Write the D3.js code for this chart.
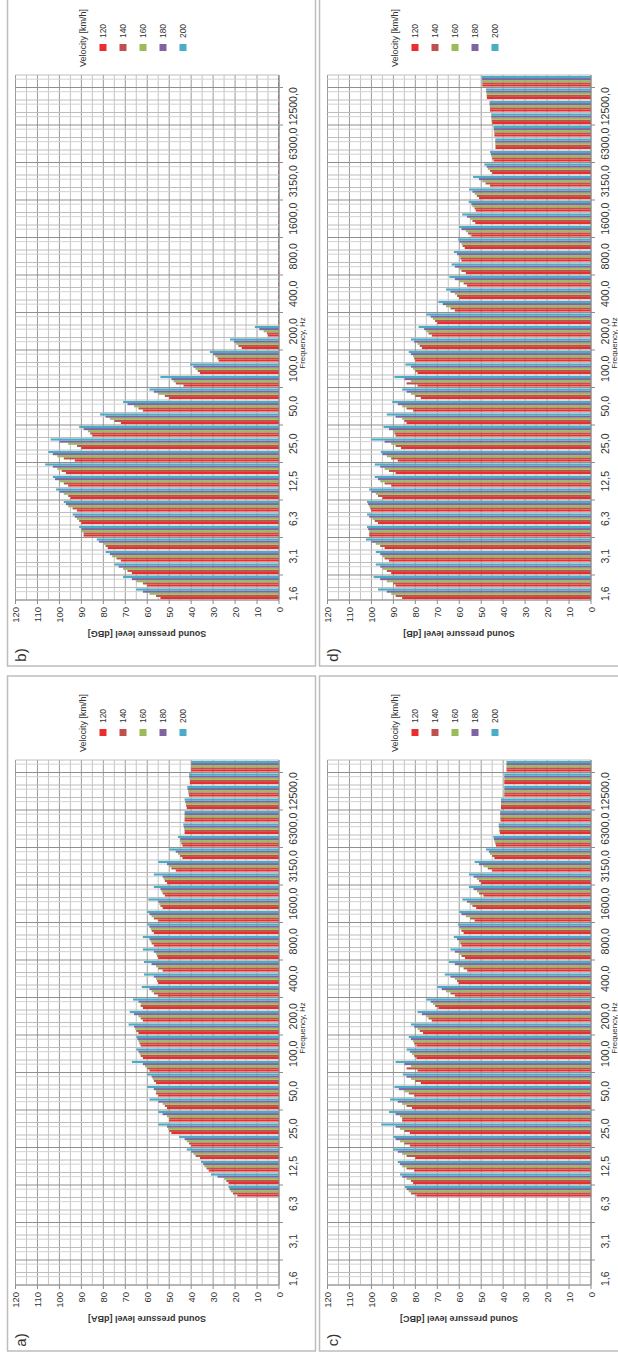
<!DOCTYPE html>
<html lang="en">
<head>
<meta charset="UTF-8">
<title>Sound pressure level vs frequency</title>
<script src="https://cdn.jsdelivr.net/npm/d3@7/dist/d3.min.js"></script>
<style>
  body { margin: 0; background: #fff; }
  svg { display: block; }
  text { font-family: "Liberation Sans", Arial, sans-serif; fill: #333; }
</style>
</head>
<body>
<svg id="chart" width="618" height="1361"></svg>
<script>
// categories (1/3 octave bands) and series
const frequencies = ["1,6","2,0","2,5","3,1","4,0","5,0","6,3","8,0","10,0","12,5","16,0","20,0","25,0","31,5","40,0","50,0","63,0","80,0","100,0","125,0","160,0","200,0","250,0","315,0","400,0","500,0","630,0","800,0","1000,0","1250,0","1600,0","2000,0","2500,0","3150,0","4000,0","5000,0","6300,0","8000,0","10000,0","12500,0","16000,0","20000,0"];
const velocities = ["120","140","160","180","200"];
const seriesColors = ["#ec2d2d","#c0504d","#9bbb59","#8064a2","#4bacc6"];
const valueTicks = [0,10,20,30,40,50,60,70,80,90,100,110,120];

// a) dBA
const dBA_120 = [null,null,null,null,null,null,null,19,23,32,36,40,49,50,51,55,56,59,62,63,64,62,62,55,55,53,55,57,57,55,53,52,51,47,44,44,43,43,42,41,40.6,40];
const dBA_140 = [null,null,null,null,null,null,null,21,24,33,38,41,50,50,52,56,57,60,63,63.5,65,63,63,57,55.5,55,55.5,58,58,57,54,53,52,49,45,44.5,43,43,42.3,41.2,40.6,40];
const dBA_160 = [null,null,null,null,null,null,null,22,25,34,39,42,50.5,51,53,56,57.5,61,63.5,64,65.5,64,63,58,56,56,56,58.5,58.5,58,54.5,53.5,52.5,50,46,45,43.2,43,42.5,41.4,40.8,40];
const dBA_180 = [null,null,null,null,null,null,null,22.5,28,34.5,40,43,51,53,55,57,58,62,64,64.5,66,66,64,59,57,58,57,59,59,59,55,54,53,51,47,45,43.4,43,42.7,41.6,40.9,40];
const dBA_200 = [null,null,null,null,null,null,null,23,31,35.5,42,45.5,55,55,59,60,60,67,65,65,68.5,68,66.5,62.5,61.5,61.5,62,62,60,60,59.5,57,57,55,50,46,43.6,43,43,41.8,41,40];

// b) dBG
const dBG_120 = [54,60,67,72,78,89,90,92,95,96,97,93,90,85,72,62,50,43.5,36,27.5,17,5,0.4,0.4,0.4,0.4,0.4,0.4,0.4,0.4,0.4,0.4,0.4,0.4,0.4,0.4,0.4,0.4,0.4,0.4,0.4,0.4];
const dBG_140 = [56,62,69,74,79,89,91,94,96,98,99,98,92,86,75,64,52,47,37,28,18.5,5.5,0.4,0.4,0.4,0.4,0.4,0.4,0.4,0.4,0.4,0.4,0.4,0.4,0.4,0.4,0.4,0.4,0.4,0.4,0.4,0.4];
const dBG_160 = [59,65,71,76,80,90,92,96,98,100,101,101,96,87,77,66,55,48,38,29,19.5,7,0.4,0.4,0.4,0.4,0.4,0.4,0.4,0.4,0.4,0.4,0.4,0.4,0.4,0.4,0.4,0.4,0.4,0.4,0.4,0.4];
const dBG_180 = [62,67,73,77,82,90,93,97,100,102,103,103,100,89,79,69,57,49,39,30,20.5,9,0.4,0.4,0.4,0.4,0.4,0.4,0.4,0.4,0.4,0.4,0.4,0.4,0.4,0.4,0.4,0.4,0.4,0.4,0.4,0.4];
const dBG_200 = [65,71,75,79,83,91,94,98,101.5,103,106.5,105,104,91,81.5,71,59,54,40.5,31.5,22.3,11,0.4,0.4,0.4,0.4,0.4,0.4,0.4,0.4,0.4,0.4,0.4,0.4,0.4,0.4,0.4,0.4,0.4,0.4,0.4,0.4];

// c) dBC
const dBC_120 = [null,null,null,null,null,null,null,79.5,81,80.5,80,82.5,82.5,86,81.5,80.5,77.5,79,79.5,79.5,76.5,72.5,69.5,62,60.3,56.4,57.4,59,58,53,52.3,49,50,45,44,43.3,41.5,41.2,41,39.5,39.5,38.5];
const dBC_140 = [null,null,null,null,null,null,null,82,82,84,84,85,85,86,84,83,80,84,80.5,80.5,78,74,71,64,61,58,59,59.5,59,55,54,51,51,47,45,43.6,41.7,41.3,41,39.5,39.5,38.5];
const dBC_160 = [null,null,null,null,null,null,null,83,84,86,86,87,87,87,86,85,82,82,81.5,81,79,75,72,66,62,60,60,60,59.5,57,55,52,52,49,46,44,41.8,41.3,41,39.5,39.5,38.5];
const dBC_180 = [null,null,null,null,null,null,null,84,86,87,88,89,89,89,88,87.5,84,85,82.5,82,80.5,77,73,68,64,62,62,61,60,59,56.5,53.5,53.5,51,46.5,44.2,42,41.4,41,39.5,39.5,38.5];
const dBC_200 = [null,null,null,null,null,null,null,84.7,87,88,90,90,95.5,92,91.5,89.5,85.7,89,84,83,82,79,75,70,66.6,64.7,64,62.5,60.6,60,58.6,55.6,55.6,53,47.8,44.5,42,41.4,41,39.5,39.5,38.5];

// d) dB
const dB_120 = [86,89,91,92,94,101,97,100,95,91,89,88,86.5,89,84,81,77.5,79,79,80,77,72.5,70,62,60,56.5,57,59,57.5,54.5,52.7,52.5,51,46,45,44.4,43.5,44,45,46,47.4,49.5];
const dB_140 = [89,90,93,94,96,101,98.5,100.5,97,94,92,91,89,89.5,85,84,80,84,80,80.5,78,74,71,64,61,58,59,59.5,58.5,56,54,53,52,48,46,45,43.5,44,45.2,46,47.5,49.5];
const dB_160 = [91,93,95,95,98,101,99.5,101,98,96,94,93,91,90,86,86,82,82,81,81,79,75,72,66,62,60,60,60,59,57,55,54,53,49.5,47,45.3,43.6,44.2,45.3,46.1,47.6,49.6];
const dB_180 = [93,96,96,96,100,101.5,101,101.5,100,97,96,95,94,92,89,88,84,85,82,82,80.5,76,73,67.5,64,62,62,61,60,59,56.5,54.5,54,51,47.5,45.6,43.6,44.3,45.4,46.2,47.7,49.7];
const dB_200 = [97,99,98,98,102.5,102,102,102,101,98.5,98.5,95.7,100,94.5,93,90.5,86,89.5,84.5,83,82,78.5,75,69.5,66,64.5,63.5,62.5,60.5,60,58.7,55.7,55.5,53.7,48.6,46,43.6,44.4,45.4,46.2,47.8,49.7];

const panels = [
  {label: "b)", unit: "[dBG]", col: 0, row: 0, series: [dBG_120, dBG_140, dBG_160, dBG_180, dBG_200]},
  {label: "a)", unit: "[dBA]", col: 0, row: 1, series: [dBA_120, dBA_140, dBA_160, dBA_180, dBA_200]},
  {label: "d)", unit: "[dB]",  col: 1, row: 0, series: [dB_120, dB_140, dB_160, dB_180, dB_200]},
  {label: "c)", unit: "[dBC]", col: 1, row: 1, series: [dBC_120, dBC_140, dBC_160, dBC_180, dBC_200]}
];

const colX = [0, 312], rowY = [0, 685];
const plotTop = 75, plotBottom = 600, xZero = 279, xMax = 15.5;

const svg = d3.select("#chart");

panels.forEach(p => {
  const g = svg.append("g").attr("transform", `translate(${colX[p.col]},${rowY[p.row]})`);

  // panel frame
  g.append("rect").attr("x", 7.5).attr("y", -9).attr("width", 308).attr("height", 675)
    .attr("fill", "none").attr("stroke", "#bdbdbd").attr("stroke-width", 1.5);

  const x = d3.scaleLinear().domain([0, 120]).range([xZero, xMax]);
  const y = d3.scaleBand().domain(frequencies).range([plotBottom, plotTop])
    .paddingInner(0.15).paddingOuter(0.075);
  const ys = d3.scaleBand().domain(d3.range(velocities.length)).range([y.bandwidth(), 0]);
  const step = y.step();

  // grid: value lines every 5 dB
  g.append("g").selectAll("line").data(d3.range(0, 121, 5)).join("line")
    .attr("x1", d => x(d)).attr("x2", d => x(d))
    .attr("y1", plotTop).attr("y2", plotBottom)
    .attr("stroke", d => d % 10 === 0 ? "#9a9a9a" : "#c4c4c4").attr("stroke-width", 1);

  // grid: category boundaries and minor lines
  g.append("g").selectAll("line").data(d3.range(1, frequencies.length + 1)).join("line")
    .attr("x1", xMax).attr("x2", xZero)
    .attr("y1", k => plotBottom - k * step + step / 3).attr("y2", k => plotBottom - k * step + step / 3)
    .attr("stroke", "#d2d2d2").attr("stroke-width", 1);
  g.append("g").selectAll("line").data(d3.range(frequencies.length + 1)).join("line")
    .attr("x1", xMax).attr("x2", xZero)
    .attr("y1", k => plotBottom - k * step).attr("y2", k => plotBottom - k * step)
    .attr("stroke", k => k % 3 === 2 ? "#8f8f8f" : "#bdbdbd").attr("stroke-width", 1);

  // bars
  p.series.forEach((vals, si) => {
    g.append("g").attr("fill", seriesColors[si])
      .selectAll("rect").data(frequencies.map((f, i) => ({f, v: vals[i]})).filter(d => d.v != null))
      .join("rect")
      .attr("x", d => x(d.v)).attr("width", d => x(0) - x(d.v))
      .attr("y", d => y(d.f) + ys(si)).attr("height", ys.bandwidth());
  });

  // axis lines
  g.append("line").attr("x1", xZero).attr("x2", xZero).attr("y1", plotTop).attr("y2", plotBottom)
    .attr("stroke", "#8c8c8c");
  g.append("line").attr("x1", xMax).attr("x2", xZero).attr("y1", plotBottom).attr("y2", plotBottom)
    .attr("stroke", "#8c8c8c");

  // value ticks + labels
  g.append("g").selectAll("line").data(valueTicks).join("line")
    .attr("x1", d => x(d)).attr("x2", d => x(d)).attr("y1", plotBottom).attr("y2", plotBottom + 4)
    .attr("stroke", "#8c8c8c");
  g.append("g").selectAll("text").data(valueTicks).join("text")
    .attr("transform", d => `translate(${x(d)},${plotBottom + 7}) rotate(-90)`)
    .attr("text-anchor", "end").attr("dominant-baseline", "central")
    .style("font-size", "9.5px").text(d => d);

  // category ticks + labels (every 3rd band)
  g.append("g").selectAll("line").data(d3.range(2, frequencies.length + 1, 3)).join("line")
    .attr("x1", xZero).attr("x2", xZero + 4)
    .attr("y1", k => plotBottom - k * step).attr("y2", k => plotBottom - k * step)
    .attr("stroke", "#8c8c8c");
  g.append("g").selectAll("text").data(frequencies.filter((f, i) => i % 3 === 0)).join("text")
    .attr("transform", f => `translate(293,${y(f) + y.bandwidth() / 2}) rotate(-90)`)
    .attr("text-anchor", "middle").attr("dominant-baseline", "central")
    .style("font-size", "10.5px").text(f => f);

  // axis titles
  g.append("text").attr("transform", `translate(302,343) rotate(-90)`)
    .attr("text-anchor", "middle").attr("dominant-baseline", "central")
    .style("font-size", "8px").text("Frequency, Hz");
  g.append("text").attr("transform", `translate(147,634) rotate(180)`)
    .attr("text-anchor", "middle").attr("dominant-baseline", "central")
    .style("font-size", "9px").style("font-weight", "bold")
    .text("Sound pressure level " + p.unit);

  // legend
  g.append("text").attr("transform", "translate(83,38) rotate(-90)")
    .attr("text-anchor", "middle").attr("dominant-baseline", "central")
    .style("font-size", "9px").text("Velocity [km/h]");
  const leg = g.append("g").selectAll("g").data(velocities).join("g")
    .attr("transform", (d, i) => `translate(${103 + i * 20},0)`);
  leg.append("rect").attr("x", -3.5).attr("y", 44).attr("width", 7).attr("height", 7)
    .attr("fill", (d, i) => seriesColors[i]);
  leg.append("text").attr("transform", "translate(0,31) rotate(-90)")
    .attr("text-anchor", "middle").attr("dominant-baseline", "central")
    .style("font-size", "8.5px").text(d => d);

  // panel label
  g.append("text").attr("transform", "translate(20,655) rotate(-90)")
    .attr("text-anchor", "middle").attr("dominant-baseline", "central")
    .style("font-size", "15px").text(p.label);
});
</script>
</body>
</html>
